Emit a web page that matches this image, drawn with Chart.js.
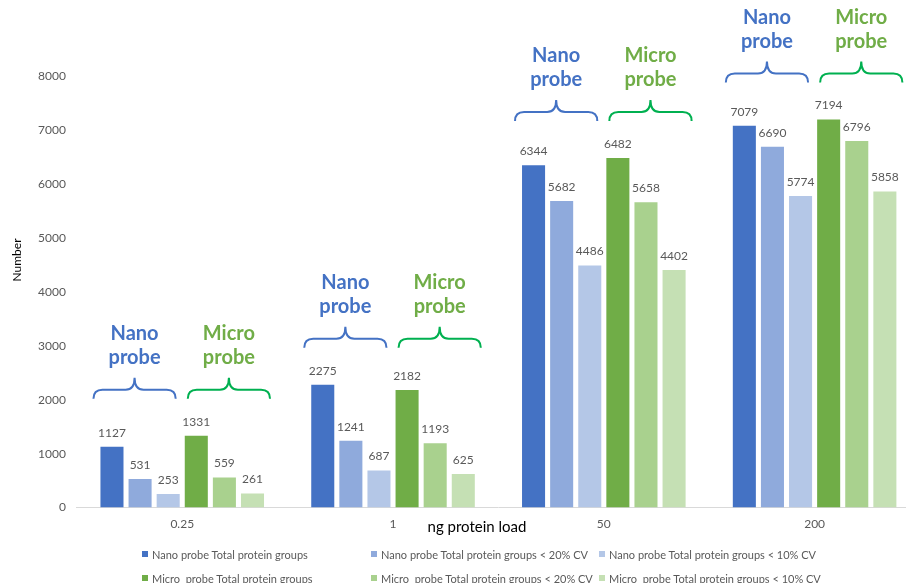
<!DOCTYPE html>
<html>
<head>
<meta charset="utf-8">
<script src="https://cdn.jsdelivr.net/npm/chart.js@4.4.1/dist/chart.umd.min.js"></script>
<style>
  html, body { margin: 0; padding: 0; overflow: hidden; background: #fff; }
  #wrap { position: relative; width: 922px; height: 583px; }
  #legend {
    position: absolute; left: 142px; top: 542px;
    display: grid; grid-template-columns: 229px 228px 228px; grid-auto-rows: 24px;
    font: 11px Lato, sans-serif; color: #595959;
  }
  #legend div { display: flex; align-items: center; white-space: pre; }
  #legend span.sw { width: 6px; height: 6px; margin-right: 4px; flex: none; }
</style>
</head>
<body>
<div id="wrap">
  <canvas id="chart"></canvas>
  <div id="legend"></div>
</div>
<script>
// protein load per run (ng)
const categories = ['0.25', '1', '50', '200'];

// identified protein groups
const nanoTotal  = [1127, 2275, 6344, 7079];
const nano20     = [531, 1241, 5682, 6690];
const nano10     = [253, 687, 4486, 5774];
const microTotal = [1331, 2182, 6482, 7194];
const micro20    = [559, 1193, 5658, 6796];
const micro10    = [261, 625, 4402, 5858];

const seriesNames = [
  'Nano probe Total protein groups',
  'Nano probe Total protein groups < 20% CV',
  'Nano probe Total protein groups < 10% CV',
  'Micro  probe Total protein groups',
  'Micro  probe Total protein groups < 20% CV',
  'Micro  probe Total protein groups < 10% CV'
];
const seriesValues = [nanoTotal, nano20, nano10, microTotal, micro20, micro10];
const seriesColors = ['#4472C4', '#8FAADC', '#B4C7E7', '#70AD47', '#A9D18E', '#C5E0B4'];

// bracket labels above each half of a group (shift = nudge of the bracket ends)
const probes = [
  { lines: ['Nano', 'probe'], text: '#4472C4', brace: '#4472C4', shift: [-7, -4] },
  { lines: ['Micro', 'probe'], text: '#70AD47', brace: '#00B050', shift: [3, 6] }
];

const yMax = 8000;
const yStep = 1000;

function drawBrace(ctx, x1, x2, yTip, color) {
  const xm = (x1 + x2) / 2;
  const yLine = yTip + 12;
  const yEnd = yTip + 21;
  const r = 9;
  ctx.beginPath();
  ctx.moveTo(x1, yEnd);
  ctx.quadraticCurveTo(x1, yLine, x1 + r, yLine);
  ctx.lineTo(xm - r, yLine);
  ctx.quadraticCurveTo(xm, yLine, xm, yTip);
  ctx.quadraticCurveTo(xm, yLine, xm + r, yLine);
  ctx.lineTo(x2 - r, yLine);
  ctx.quadraticCurveTo(x2, yLine, x2, yEnd);
  ctx.strokeStyle = color;
  ctx.lineWidth = 2;
  ctx.stroke();
}

const annotate = {
  id: 'annotate',
  afterDatasetsDraw(chart) {
    const ctx = chart.ctx;
    ctx.save();

    // value above every bar
    ctx.font = '12px Lato';
    ctx.fillStyle = '#595959';
    ctx.textAlign = 'center';
    ctx.textBaseline = 'middle';
    chart.data.datasets.forEach((ds, i) => {
      chart.getDatasetMeta(i).data.forEach((bar, j) => {
        ctx.fillText(ds.data[j], bar.x, bar.y - 14);
      });
    });

    // braces + probe names over each group
    categories.forEach((c, j) => {
      const bars = chart.data.datasets.map((ds, i) => chart.getDatasetMeta(i).data[j]);
      const top = Math.min(...bars.map(b => b.y));
      const yTip = top - 58;
      probes.forEach((p, k) => {
        const first = bars[k * 3], last = bars[k * 3 + 2];
        const x1 = first.x - first.width / 2 + p.shift[0];
        const x2 = last.x + last.width / 2 + p.shift[1];
        drawBrace(ctx, x1, x2, yTip, p.brace);
        ctx.font = 'bold 20px Lato';
        ctx.fillStyle = p.text;
        ctx.fillText(p.lines[0], (x1 + x2) / 2, yTip - 44);
        ctx.fillText(p.lines[1], (x1 + x2) / 2, yTip - 20);
      });
    });

    // axis titles
    ctx.fillStyle = '#000';
    ctx.font = '15px Lato';
    ctx.fillText('ng protein load', 477, 527);
    ctx.translate(17, 260);
    ctx.rotate(-Math.PI / 2);
    ctx.font = '12px Lato';
    ctx.fillText('Number', 0, 0);
    ctx.restore();
  }
};

const datasets = seriesNames.map((name, i) => ({
  label: name,
  data: seriesValues[i],
  backgroundColor: seriesColors[i],
  categoryPercentage: 0.8,
  barPercentage: 0.82
}));

new Chart(document.getElementById('chart'), {
  type: 'bar',
  data: { labels: categories, datasets: datasets },
  options: {
    responsive: true,
    maintainAspectRatio: false,
    animation: false,
    layout: { padding: { top: 76, left: 27, right: 2, bottom: 43 } },
    plugins: { legend: { display: false }, tooltip: { enabled: false } },
    scales: {
      x: {
        grid: { display: false, drawTicks: false },
        border: { color: '#d9d9d9', width: 1 },
        ticks: { color: '#595959', font: { family: 'Lato', size: 12 }, padding: 9 }
      },
      y: {
        min: 0,
        max: yMax,
        grid: { display: false, drawTicks: false },
        border: { display: false },
        ticks: {
          stepSize: yStep,
          color: '#595959',
          font: { family: 'Lato', size: 12 },
          padding: 11,
          callback: v => String(v)
        }
      }
    }
  },
  plugins: [annotate]
});

// legend in three columns
const legend = document.getElementById('legend');
seriesNames.forEach((name, i) => {
  const item = document.createElement('div');
  const sw = document.createElement('span');
  sw.className = 'sw';
  sw.style.background = seriesColors[i];
  item.appendChild(sw);
  item.appendChild(document.createTextNode(name));
  legend.appendChild(item);
});
</script>
</body>
</html>
